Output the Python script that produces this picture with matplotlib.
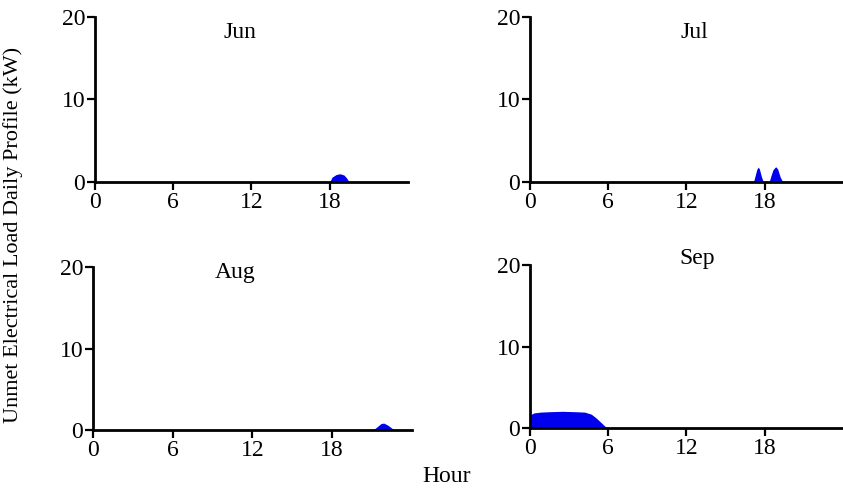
import matplotlib
matplotlib.use("Agg")
import matplotlib.pyplot as plt

plt.rcParams['font.family'] = ['Liberation Serif', 'DejaVu Serif']

months = ["Jun", "Jul", "Aug", "Sep"]

# hour / unmet load (kW) points
jun_hours = [0, 18.0, 18.2, 18.5, 18.8, 19.1, 19.3, 19.5, 24]
jun_load = [0, 0, 0.6, 0.9, 1.0, 0.85, 0.5, 0, 0]

jul_hours = [0, 17.15, 17.3, 17.4, 17.5, 17.6, 17.75, 17.9,
             18.35, 18.5, 18.65, 18.85, 19.0, 19.2, 19.4, 24]
jul_load = [0, 0, 0.9, 1.5, 1.8, 1.6, 0.7, 0,
            0, 0.8, 1.5, 1.85, 1.6, 0.6, 0, 0]

aug_hours = [0, 21.1, 21.4, 21.7, 21.9, 22.2, 22.7, 24]
aug_load = [0, 0, 0.4, 0.8, 0.85, 0.6, 0, 0]

sep_hours = [0, 0.3, 0.8, 1.5, 2.5, 3.5, 4.2, 4.7, 5.1, 5.5, 5.9, 24]
sep_load = [1.6, 1.85, 1.95, 2.0, 2.05, 2.0, 1.95, 1.7, 1.2, 0.6, 0, 0]

hours = [jun_hours, jul_hours, aug_hours, sep_hours]
loads = [jun_load, jul_load, aug_load, sep_load]

xticks = [0, 6, 12, 18]
yticks = [0, 10, 20]

# axes boxes in figure fraction: left, bottom, width, height
boxes = [
    [0.1127, 0.6286, 0.371, 0.3367],
    [0.6287, 0.6286, 0.371, 0.3367],
    [0.1103, 0.1224, 0.378, 0.3327],
    [0.6287, 0.1265, 0.371, 0.3327],
]
title_pos = [(0.463, 0.87), (0.527, 0.87), (0.445, 0.93), (0.534, 1.005)]

fig = plt.figure(figsize=(8.43, 4.9), dpi=100)

for i in range(4):
    ax = fig.add_axes(boxes[i])
    ax.fill_between(hours[i], loads[i], 0, color="#0000ee", linewidth=0)
    ax.set_xlim(0, 24)
    ax.set_ylim(0, 20)
    ax.set_xticks(xticks)
    ax.set_yticks(yticks)
    ax.spines['top'].set_visible(False)
    ax.spines['right'].set_visible(False)
    ax.spines['left'].set_linewidth(2)
    ax.spines['bottom'].set_linewidth(2)
    ax.tick_params(width=1.6, length=6, labelsize=17, pad=1)
    ax.text(title_pos[i][0], title_pos[i][1], months[i], transform=ax.transAxes,
            ha='center', va='baseline', fontsize=17)

fig.text(0.016, 0.52, "Unmet Electrical Load Daily Profile (kW)", rotation=90,
         ha='center', va='center', fontsize=16)
fig.text(0.53, 0.028, "Hour", ha='center', va='center', fontsize=17)

fig.savefig("out.png", dpi=100)
